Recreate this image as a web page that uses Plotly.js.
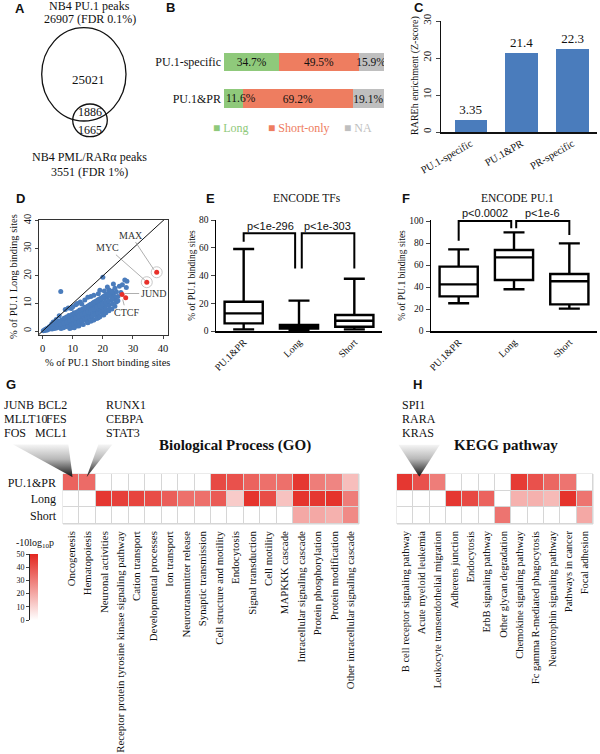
<!DOCTYPE html>
<html><head><meta charset="utf-8">
<script src="https://cdn.plot.ly/plotly-3.0.1.min.js"></script>
<style>html,body{margin:0;padding:0;background:#fff}</style>
</head><body><div id="chart" style="width:600px;height:754px"></div>
<script>
// ---------------- DATA ----------------
// Panel A (Venn)
const vennCounts = ['25021', '1886', '1665'];
const vennTitles = ['NB4 PU.1 peaks', '26907 (FDR 0.1%)', 'NB4 PML/RARα peaks', '3551 (FDR 1%)'];
// Panel B
const bCategories = ['PU.1-specific', 'PU.1&PR'];
const bLong = [34.7, 11.6];
const bShortOnly = [49.5, 69.2];
const bNA = [15.9, 19.1];
const bLegend = ['Long', 'Short-only', 'NA'];
// Panel C
const cCategories = ['PU.1-specific', 'PU.1&PR', 'PR-specific'];
const cValues = [3.35, 21.4, 22.3];
// Panel D
const dShortX = [0.2,0.5,0.8,1.0,1.3,1.5,1.8,2.0,2.2,2.5,2.7,3.0,3.1,3.4,3.6,3.9,4.1,4.3,4.6,4.8,5.0,5.2,5.5,5.7,5.9,6.1,6.3,6.5,6.7,6.9,7.1,7.3,7.5,7.7,7.9,8.1,8.3,8.5,8.7,8.9,9.1,9.3,9.5,9.7,9.9,10.1,10.3,10.5,10.7,10.9,11.1,11.3,11.5,11.7,11.9,12.1,12.3,12.5,12.7,12.9,13.1,13.3,13.5,13.7,13.9,14.1,14.3,14.5,14.7,14.9,15.1,15.3,15.5,15.7,15.9,16.1,16.3,16.5,16.7,16.9,17.1,17.3,17.5,17.7,17.9,18.1,18.3,18.5,18.7,18.9,19.1,19.3,19.5,19.7,19.9,20.1,20.3,20.5,20.7,20.9,21.1,21.4,21.7,22.0,22.3,22.6,22.9,23.2,23.5,24.0,24.5,25.0,6.0,20.0,27.3,28.0,27.8,25.5,5.5,7.5,9.5,11.0,12.5,14.0,16.0,18.5,20.5,17.0,22.0,3.5,13.0,10.0,26.0,
  1.1,1.6,2.3,2.8,3.3,3.8,4.4,4.9,5.4,5.8,6.4,6.8,7.2,7.6,8.0,8.4,8.8,9.2,9.6,10.0,10.4,10.8,11.2,11.6,12.0,12.4,12.8,13.2,13.6,14.0,14.4,14.8,15.2,15.6,16.0,16.4,16.8,17.2,17.6,18.0,18.4,18.8,19.2,19.6,20.0,20.4,20.8,21.2,21.6,22.0,22.5,23.0,
  9.0,10.5,12.0,13.5,15.0,16.0,17.0,18.0,19.0,20.0,21.0,22.0,23.0,24.0,24.5,25.0,23.8,
  6.0,7.0,8.0,9.0,10.0,11.0,12.0,13.0,14.0,15.0,16.0,17.0,18.0,19.0,20.0,21.0,22.0,23.0,
  8.5,11.5,15.0,19.0,21.5,23.5,24.0,26.5,3.0,4.5];
const dLongY = [0.1,0.2,0.5,0.3,0.8,0.4,1.1,0.6,1.5,0.9,1.8,1.2,0.7,2.1,1.5,0.9,2.6,1.8,1.1,3.0,2.2,1.4,3.5,2.6,1.6,0.9,4.0,3.0,2.0,1.2,4.6,3.4,2.4,1.5,5.1,3.9,2.8,1.8,5.6,4.3,3.1,2.0,1.2,6.0,4.8,3.6,2.4,6.6,5.2,4.0,2.9,1.8,7.0,5.6,4.4,3.2,7.6,6.1,4.9,3.6,2.5,8.0,6.6,5.3,4.0,8.6,7.1,5.8,4.4,3.2,9.0,7.6,6.2,4.9,9.5,8.0,6.7,5.3,4.0,10.0,8.5,7.1,5.8,10.4,9.0,7.6,6.3,4.8,10.9,9.4,8.1,6.8,11.3,9.9,8.5,7.2,5.8,11.8,10.3,9.0,7.7,12.3,10.8,9.4,8.1,12.8,11.2,9.8,13.5,11.5,14.2,12.5,14.3,19.5,18.5,18.0,15.8,16.2,5.5,7.8,8.2,9.5,10.5,11.2,12.5,13.5,14.5,13.0,15.0,3.3,9.8,8.8,14.0,
  0.6,0.9,1.2,1.4,1.6,2.0,2.3,2.5,2.9,3.2,3.5,3.8,4.1,4.4,4.6,4.9,5.0,5.3,5.5,5.8,6.0,6.3,6.5,6.8,7.0,7.3,7.5,7.8,8.0,8.3,8.5,8.8,9.1,9.4,9.6,9.9,10.2,10.5,10.7,11.0,11.3,11.5,11.8,12.0,12.3,12.6,12.9,13.1,13.4,13.7,14.0,14.4,
  0.9,1.2,1.8,2.4,3.0,3.5,4.0,4.5,5.2,5.9,6.6,7.3,8.0,9.0,10.5,11.0,12.5,
  2.4,2.9,3.3,3.8,4.3,4.8,5.4,6.0,6.5,7.0,7.5,8.0,8.6,9.2,9.8,10.4,11.0,11.7,
  8.3,10.0,12.2,14.8,16.0,17.0,15.5,16.8,2.5,4.2];
const dNames = ['MAX', 'MYC', 'JUND', 'CTCF'];
const dNamesX = [37.9, 34.6, 26.4, 27.6];
const dNamesY = [21.3, 17.7, 13.2, 12.1];
const dCircled = [true, true, false, false];
// Panels E, F (box summaries)
const boxGroups = ['PU.1&PR', 'Long', 'Short'];
const eLower = [1.2, 0.3, 1.2];
const eQ1 = [5.5, 1.7, 3.1];
const eMedian = [12.7, 3.1, 7.4];
const eQ3 = [21.1, 4.3, 11.5];
const eUpper = [59.1, 21.9, 37.7];
const ePvalues = ['p<1e-296', 'p<1e-303'];
const fLower = [25.2, 37.9, 20.3];
const fQ1 = [31.5, 46.4, 24.2];
const fMedian = [42.4, 66.9, 45.2];
const fQ3 = [58.5, 73.6, 51.8];
const fUpper = [74.2, 89.7, 79.7];
const fPvalues = ['p<0.0002', 'p<1e-6'];
// Panel G
const heatRows = ['PU.1&PR', 'Long', 'Short'];
const goTerms = ['Oncogenesis','Hematopoiesis','Neuronal activities','Receptor protein tyrosine kinase signaling pathway','Cation transport','Developmental processes','Ion transport','Neurotransmitter release','Synaptic transmission','Cell structure and motility','Endocytosis','Signal transduction','Cell motility','MAPKKK cascade','Intracellular signaling cascade','Protein phosphorylation','Protein modification','Other intracellular signaling cascade'];
const goPU1PR = [36,34,0,0,0,0,0,0,0,42,40,36,33,33,46,30,28,15];
const goLong  = [0,0,46,44,43,41,37,33,33,38,12,47,41,14,47,46,47,30];
const goShort = [0,0,0,0,0,0,0,0,0,0,0,0,0,0,20,20,18,27];
const goGenesA = ['JUNB', 'MLLT10', 'FOS'];
const goGenesB = ['BCL2', 'FES', 'MCL1'];
const goGenesC = ['RUNX1', 'CEBPA', 'STAT3'];
// Panel H
const keggTerms = ['B cell receptor signaling pathway','Acute myeloid leukemia','Leukocyte transendothelial migration','Adherens junction','Endocytosis','ErbB signaling pathway','Other glycan degradation','Chemokine signaling pathway','Fc gamma R-mediated phagocytosis','Neurotrophin signaling pathway','Pathways in cancer','Focal adhesion'];
const keggPU1PR = [46,40,30,0,0,0,0,45,40,35,32,0];
const keggLong  = [0,0,0,46,42,36,0,18,18,16,47,32];
const keggShort = [0,0,0,0,0,0,32,0,0,0,0,20];
const keggGenes = ['SPI1', 'RARA', 'KRAS'];
const colorbarTicks = [0, 10, 20, 30, 40, 50];

// ---------------- STYLE ----------------
const SERIF = '"Liberation Serif", "Times New Roman", serif';
const SANS = '"Liberation Sans", Arial, sans-serif';
const GREEN = '#8fc97b', SALMON = '#ee7d60', GREY = '#bfbfbf';
const BLUE = '#4a7cbc', RED = '#e3261f';
const heatScale = [[0, '#ffffff'], [1, RED]];
const W = 600, H = 754;
const dx = (a, b) => [a / W, b / W];
const dy = (top, bottom) => [1 - bottom / H, 1 - top / H];
const SMALL_SEGMENT = 20;

const traces = [];
// B: stacked horizontal bars
[[bLong, GREEN], [bShortOnly, SALMON], [bNA, GREY]].forEach(([vals, col], i) => {
  traces.push({type: 'bar', orientation: 'h', xaxis: 'x', yaxis: 'y', name: bLegend[i],
    x: vals, y: bCategories, width: 0.52, marker: {color: col, line: {width: 0}},
    texttemplate: '%{x:.1f}%', textposition: vals.map(v => (i === 0 && v < SMALL_SEGMENT) ? 'none' : 'inside'),
    insidetextanchor: 'middle', textangle: 0, constraintext: 'none',
    textfont: {family: SERIF, size: 11.5, color: '#111'}, hoverinfo: 'skip'});
});
// C: bars
traces.push({type: 'bar', xaxis: 'x2', yaxis: 'y2', x: cCategories, y: cValues, width: 0.63,
  marker: {color: BLUE}, text: cValues.map(String), textposition: 'outside', cliponaxis: false,
  textfont: {family: SERIF, size: 13, color: '#111'}, hoverinfo: 'skip'});
// D: scatter
traces.push({type: 'scatter', mode: 'markers', xaxis: 'x3', yaxis: 'y3', x: dShortX, y: dLongY,
  marker: {color: BLUE, size: 5, line: {width: 0}}, hoverinfo: 'skip'});
traces.push({type: 'scatter', mode: 'markers', xaxis: 'x3', yaxis: 'y3',
  x: dNamesX.filter((v, i) => dCircled[i]), y: dNamesY.filter((v, i) => dCircled[i]),
  marker: {symbol: 'circle', color: '#ffffff', size: 11, line: {color: '#c8c8c8', width: 1}}, hoverinfo: 'skip', cliponaxis: false});
traces.push({type: 'scatter', mode: 'markers', xaxis: 'x3', yaxis: 'y3', x: dNamesX, y: dNamesY,
  marker: {color: '#e8302a', size: 5}, hoverinfo: 'skip'});
// E, F: boxes
function boxTrace(xa, ya, lo, q1, med, q3, hi) {
  return {type: 'box', orientation: 'v', xaxis: xa, yaxis: ya, x: [0, 1, 2], q1: q1, median: med, q3: q3,
    lowerfence: lo, upperfence: hi, width: 0.69, whiskerwidth: 0.55, boxpoints: false,
    line: {color: '#000', width: 2.4}, fillcolor: '#ffffff', hoverinfo: 'skip'};
}
traces.push(boxTrace('x4', 'y4', eLower, eQ1, eMedian, eQ3, eUpper));
traces.push(boxTrace('x5', 'y5', fLower, fQ1, fMedian, fQ3, fUpper));
// G, H heatmaps
traces.push({type: 'heatmap', xaxis: 'x6', yaxis: 'y6', x: goTerms, y: heatRows,
  z: [goPU1PR, goLong, goShort], zmin: 0, zmax: 50, colorscale: heatScale, xgap: 1, ygap: 1,
  hoverinfo: 'skip', showscale: true,
  colorbar: {x: 30 / W, xanchor: 'left', y: 1 - 620 / H, yanchor: 'bottom', len: 66 / H, lenmode: 'fraction',
    thickness: 8, thicknessmode: 'pixels', xpad: 0, ypad: 0, outlinewidth: 0,
    showticklabels: false, ticks: ''}});
traces.push({type: 'heatmap', xaxis: 'x7', yaxis: 'y7', x: keggTerms, y: heatRows,
  z: [keggPU1PR, keggLong, keggShort], zmin: 0, zmax: 50, colorscale: heatScale, xgap: 1, ygap: 1,
  hoverinfo: 'skip', showscale: false});
// empty trace so the colour-scale axis is drawn
traces.push({type: 'scatter', mode: 'markers', xaxis: 'x8', yaxis: 'y8', x: [], y: [], hoverinfo: 'skip'});
// pixel overlay placeholder (for annotations / shapes in page pixels)
traces.push({type: 'scatter', mode: 'markers', xaxis: 'x9', yaxis: 'y9', x: [], y: [], hoverinfo: 'skip'});

// Decorative gradient wedges (page pixels): light at the top, dark at the tip
const wedges = [
  [[12.7, 444.3], [68.3, 444.3], [72.7, 477.3]],
  [[98.5, 444.3], [112.5, 444.3], [86.5, 477.3]],
  [[398.3, 444.5], [440, 444.5], [419.3, 476.7]]
];
function wedgeImage(pts) {
  const xs = pts.map(p => p[0]), ys = pts.map(p => p[1]);
  const x0 = Math.min(...xs), y0 = Math.min(...ys);
  const w = Math.max(...xs) - x0, h = Math.max(...ys) - y0;
  const poly = pts.map(p => (p[0] - x0).toFixed(2) + ',' + (p[1] - y0).toFixed(2)).join(' ');
  const svg = "<svg xmlns='http://www.w3.org/2000/svg' width='" + w + "' height='" + h + "' viewBox='0 0 " + w + " " + h +
    "' preserveAspectRatio='none'><defs><linearGradient id='g' x1='0' y1='0' x2='0' y2='1'>" +
    "<stop offset='0' stop-color='#f6f6f6'/><stop offset='0.45' stop-color='#b8b8b8'/><stop offset='1' stop-color='#111111'/></linearGradient></defs>" +
    "<polygon points='" + poly + "' fill='url(#g)'/></svg>";
  return {source: 'data:image/svg+xml;charset=utf-8,' + encodeURIComponent(svg), xref: 'paper', yref: 'paper',
    x: x0 / W, y: 1 - y0 / H, sizex: w / W, sizey: h / H, xanchor: 'left', yanchor: 'top', sizing: 'stretch', layer: 'above'};
}

// ---------------- LAYOUT ----------------
const tf = (s) => ({family: SERIF, size: s, color: '#111'});
function txt(x, y, text, size, extra) {
  return Object.assign({xref: 'x9', yref: 'y9', x: x, y: y, text: text, showarrow: false,
    font: tf(size), xanchor: 'center', yanchor: 'middle'}, extra || {});
}
function panel(x, y, letter) {
  return txt(x, y, '<b>' + letter + '</b>', 13, {font: {family: SANS, size: 13, color: '#111'}});
}
const ann = [];
['A','B','C','D','E','F','G','H'].forEach((l, i) => {
  const pos = [[20,8],[170,7],[419,7],[20,198],[210,198],[406,198],[11,384],[417,384]][i];
  ann.push(panel(pos[0], pos[1], l));
});
// A
ann.push(txt(89, 6, vennTitles[0], 12));
ann.push(txt(90, 19, vennTitles[1], 12));
ann.push(txt(89, 157, vennTitles[2], 12));
ann.push(txt(89, 172, vennTitles[3], 12));
ann.push(txt(88, 79, vennCounts[0], 13));
ann.push(txt(90, 111.5, vennCounts[1], 12));
ann.push(txt(90, 129.5, vennCounts[2], 12));
// B small-segment labels, anchored at the start of the segment
bLong.forEach((v, i) => {
  if (v < SMALL_SEGMENT) {
    ann.push({xref: 'x', yref: 'y', x: 0, y: bCategories[i], xanchor: 'left', xshift: 0, text: v.toFixed(1) + '%',
      showarrow: false, font: tf(11.5)});
  }
});
// B legend
[[GREEN, 211], [SALMON, 266], [GREY, 342]].forEach(([c, x], i) => {
  ann.push(txt(x, 128, '■ ' + bLegend[i], 12, {xanchor: 'left', font: {family: SERIF, size: 12, color: c}}));
});
// C title
ann.push(txt(415, 76, 'RAREh enrichment (Z-score)', 10, {textangle: -90}));
// D titles + labels
ann.push(txt(13, 277, '% of PU.1 Long binding sites', 10.5, {textangle: -90}));
ann.push(txt(107, 362, '% of PU.1 Short binding sites', 10.5));
const dLabelPos = [[29.3, 34.8, 37.0, 22.2], [21.7, 30.2, 34.1, 18.3], [36.9, 13.6, 27.2, 13.6], [27.7, 6.8, 26.6, 11.4]];
dNames.forEach((n, i) => {
  const p = dLabelPos[i];
  ann.push({xref: 'x3', yref: 'y3', axref: 'x3', ayref: 'y3', x: p[2], y: p[3], ax: p[0], ay: p[1], text: n,
    showarrow: true, arrowhead: 0, arrowwidth: 0.8, arrowcolor: '#9a9a9a', standoff: 0,
    font: {family: SERIF, size: 10, color: '#333'}});
});
// E, F titles
ann.push(txt(307, 198, 'ENCODE TFs', 11.5));
ann.push(txt(517, 198, 'ENCODE PU.1', 11.5));
ann.push({xref: 'x4', yref: 'y4', x: 0.48, y: 75.8, text: ePvalues[0], showarrow: false, font: {family: SANS, size: 11, color: '#111'}});
ann.push({xref: 'x4', yref: 'y4', x: 1.52, y: 75.8, text: ePvalues[1], showarrow: false, font: {family: SANS, size: 11, color: '#111'}});
ann.push(txt(485, 213, fPvalues[0], 11, {font: {family: SANS, size: 11, color: '#111'}}));
ann.push(txt(542, 213, fPvalues[1], 11, {font: {family: SANS, size: 11, color: '#111'}}));
// G, H text
[405, 419, 433].forEach((y, i) => {
  ann.push(txt(2, y, goGenesA[i], 12, {xanchor: 'left'}));
  ann.push(txt(69, y, goGenesB[i], 12, {xanchor: 'right'}));
  ann.push(txt(104, y, goGenesC[i], 12, {xanchor: 'left'}));
  ann.push(txt(400, y, keggGenes[i], 12, {xanchor: 'left'}));
});
ann.push(txt(235, 445, '<b>Biological Process (GO)</b>', 15));
ann.push(txt(506, 445, '<b>KEGG pathway</b>', 15));
ann.push(txt(35, 543, '-10log<sub>10</sub>p', 10));

const shapes = [
  {type: 'circle', xref: 'x9', yref: 'y9', x0: 41.7, x1: 126, y0: 27.7, y1: 121, line: {color: '#111', width: 1.3}},
  {type: 'circle', xref: 'x9', yref: 'y9', x0: 72.7, x1: 107.3, y0: 104, y1: 136.7, line: {color: '#111', width: 1.3}},
  {type: 'line', xref: 'x3', yref: 'y3', x0: -1.3, y0: -1.3, x1: 41.7, y1: 41.7, line: {color: '#111', width: 1}},
  {type: 'path', xref: 'x4', yref: 'y4', path: 'M0,64.4 L0,70.4 L0.93,70.4 L0.93,45', line: {color: '#000', width: 2}},
  {type: 'path', xref: 'x4', yref: 'y4', path: 'M1.05,45 L1.05,70.4 L2,70.4 L2,45', line: {color: '#000', width: 2}},
  {type: 'path', xref: 'x5', yref: 'y5', path: 'M0,82 L0,100 L0.95,100 L0.95,93.3', line: {color: '#000', width: 2}},
  {type: 'path', xref: 'x5', yref: 'y5', path: 'M1.04,93.3 L1.04,100 L2,100 L2,87.3', line: {color: '#000', width: 2}},
  {type: 'rect', xref: 'x6 domain', yref: 'y6 domain', x0: 0, x1: 1, y0: 0, y1: 1, layer: 'below', fillcolor: '#d6d6d6', line: {color: '#d6d6d6', width: 1}},
  {type: 'rect', xref: 'x7 domain', yref: 'y7 domain', x0: 0, x1: 1, y0: 0, y1: 1, layer: 'below', fillcolor: '#d6d6d6', line: {color: '#d6d6d6', width: 1}}
];

const base = {showgrid: false, zeroline: false, fixedrange: true};
const boxYTitle = {text: '% of PU.1 binding sites', font: tf(9.5), standoff: 2};
const layout = {
  width: W, height: H, margin: {l: 0, r: 0, t: 0, b: 0},
  paper_bgcolor: '#ffffff', plot_bgcolor: 'rgba(0,0,0,0)',
  showlegend: false, barmode: 'stack', font: {family: SERIF, color: '#111'},
  // B
  xaxis: Object.assign({}, base, {domain: dx(224, 384), anchor: 'y', range: [0, 100.1], visible: false}),
  yaxis: Object.assign({}, base, {domain: dy(43.75, 116.75), anchor: 'x', autorange: 'reversed', tickfont: tf(12), ticks: '', showline: false, ticklabelstandoff: 2}),
  // C
  xaxis2: Object.assign({}, base, {domain: dx(441, 597), anchor: 'y2', range: [-0.58, 2.48], showline: true, linecolor: '#111', linewidth: 1.5, ticks: '', tickangle: -30, tickfont: tf(10.5)}),
  yaxis2: Object.assign({}, base, {domain: dy(21, 132), anchor: 'x2', range: [0, 30], dtick: 10, showline: true, linecolor: '#111', linewidth: 1.5, ticks: 'outside', ticklen: 4, tickangle: -90, tickfont: tf(11)}),
  // D
  xaxis3: Object.assign({}, base, {domain: dx(39, 168), anchor: 'y3', range: [-1.23, 41.66], tickvals: [0, 10, 20, 30, 40], showline: true, mirror: true, linecolor: '#333', linewidth: 1, ticks: 'outside', ticklen: 3, tickfont: tf(10.5)}),
  yaxis3: Object.assign({}, base, {domain: dy(220, 335), anchor: 'x3', range: [-1.45, 40.25], tickvals: [0, 10, 20, 30, 40], showline: true, mirror: true, linecolor: '#333', linewidth: 1, ticks: 'outside', ticklen: 3, tickangle: -90, tickfont: tf(10.5)}),
  // E
  xaxis4: Object.assign({}, base, {domain: dx(216, 382), anchor: 'y4', range: [-0.5, 2.5], tickvals: [0, 1, 2], ticktext: boxGroups, showline: true, linecolor: '#000', linewidth: 1.5, ticks: '', tickangle: -45, tickfont: tf(10)}),
  yaxis4: Object.assign({}, base, {domain: dy(220, 331), anchor: 'x4', range: [0, 80], dtick: 20, showline: true, linecolor: '#000', linewidth: 1.5, ticks: 'outside', ticklen: 4, tickfont: tf(9.5), title: boxYTitle}),
  // F
  xaxis5: Object.assign({}, base, {domain: dx(431, 597), anchor: 'y5', range: [-0.5, 2.5], tickvals: [0, 1, 2], ticktext: boxGroups, showline: true, linecolor: '#000', linewidth: 1.5, ticks: '', tickangle: -45, tickfont: tf(10)}),
  yaxis5: Object.assign({}, base, {domain: dy(219.9, 331), anchor: 'x5', range: [0, 101], tickvals: [0, 20, 40, 60, 80, 100], showline: true, linecolor: '#000', linewidth: 1.5, ticks: 'outside', ticklen: 4, tickfont: tf(9.5), title: boxYTitle}),
  // G
  xaxis6: Object.assign({}, base, {domain: dx(63, 359), anchor: 'y6', tickangle: -90, tickfont: tf(10.8), ticks: '', ticklabelstandoff: 4}),
  yaxis6: Object.assign({}, base, {domain: dy(474, 524), anchor: 'x6', autorange: 'reversed', tickfont: tf(12), ticks: '', ticklabelstandoff: 6}),
  // H
  xaxis7: Object.assign({}, base, {domain: dx(397, 593), anchor: 'y7', tickangle: -90, tickfont: tf(10.5), ticks: '', ticklabelstandoff: 4}),
  yaxis7: Object.assign({}, base, {domain: dy(474, 524), anchor: 'x7', autorange: 'reversed', showticklabels: false, ticks: ''}),
  // colour-scale axis
  xaxis8: Object.assign({}, base, {domain: dx(30, 38), anchor: 'y8', range: [0, 1], visible: false}),
  yaxis8: Object.assign({}, base, {domain: dy(554, 620), anchor: 'x8', range: [0, 50], tickvals: colorbarTicks, side: 'left', showline: true, linecolor: '#222', linewidth: 1, ticks: 'outside', ticklen: 3, tickfont: tf(8)}),
  // pixel overlay
  xaxis9: Object.assign({}, base, {domain: [0, 1], anchor: 'y9', range: [0, W], visible: false}),
  yaxis9: Object.assign({}, base, {domain: [0, 1], anchor: 'x9', range: [H, 0], visible: false}),
  annotations: ann,
  shapes: shapes,
  images: wedges.map(wedgeImage)
};
Plotly.newPlot('chart', traces, layout, {staticPlot: true, displayModeBar: false});
</script></body></html>
